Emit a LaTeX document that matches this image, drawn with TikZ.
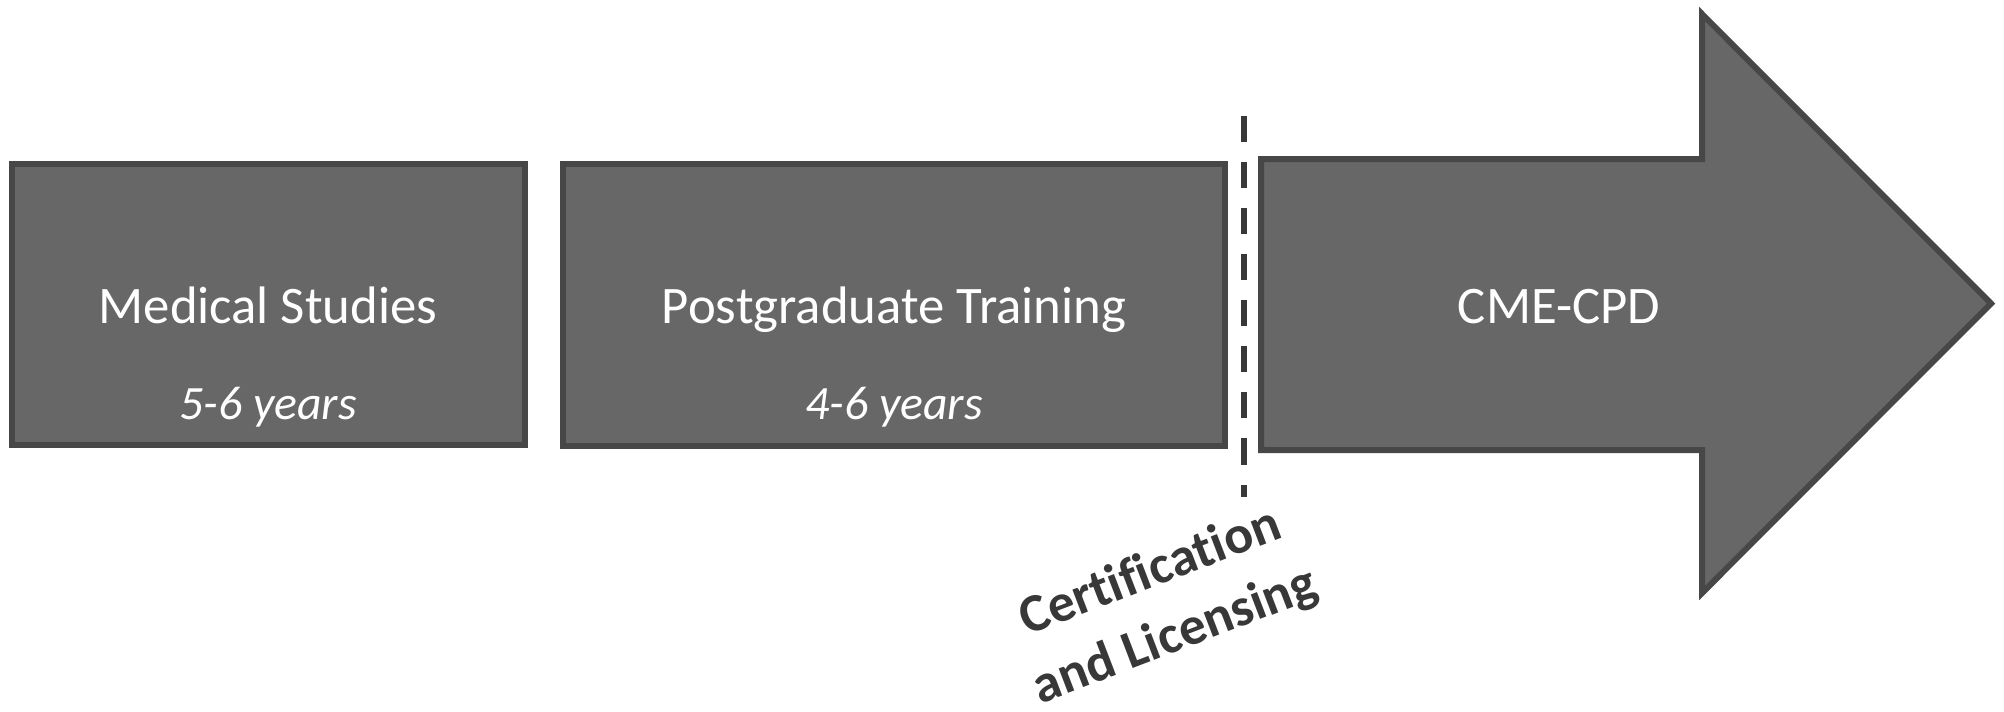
\documentclass[tikz,border=0pt]{standalone}
\usepackage{fontspec}
\setmainfont{Carlito}[Ligatures={NoCommon,NoContextual}]

\definecolor{stagefill}{HTML}{676767}
\definecolor{stageline}{HTML}{474747}
\definecolor{cutline}{HTML}{383838}

\begin{document}
\begin{tikzpicture}[x=0.01cm, y=-0.01cm,
  stage/.style={draw=stageline, fill=stagefill, line width=1.7pt, inner sep=0pt},
  stagename/.style={anchor=base, text=white, font=\fontsize{15}{18}\selectfont},
  years/.style={anchor=base, text=white, font=\fontsize{13.6}{18}\selectfont\itshape}]
  \useasboundingbox (0,0) rectangle (2004,711);

  % Stages
  \node[stage, minimum width=5.13cm, minimum height=2.8cm] (med) at (268.5,304.5) {};
  \node[stage, minimum width=6.62cm, minimum height=2.82cm] (post) at (894,305) {};
  \node[stagename] (medname) at (268,323) {Medical Studies};
  \node[years] (medyears) at (268,419) {5-6 years};
  \node[stagename] (postname) at (894,323) {Postgraduate Training};
  \node[years] (postyears) at (894,419) {4-6 years};

  % CME-CPD arrow
  \draw[stage, line join=miter] (1261,159) -- (1702,159) -- (1702,14) -- (1991,303.5)
    -- (1702,593) -- (1702,450) -- (1261,450) -- cycle;
  \node[stagename] (cme) at (1559,323) {CME-CPD};

  % Certification cut
  \coordinate (cuttop) at (1244,116);
  \coordinate (cutbot) at (1244,497);
  \draw[cutline, line width=1.7pt, dash pattern=on 7.4pt off 5.7pt] (cuttop) -- (cutbot);
  \node[rotate=21, align=center, text=cutline, font=\fontsize{15.3}{19.5}\selectfont\bfseries]
    (cert) at (1163,605) {Certification\\and Licensing};
\end{tikzpicture}
\end{document}
